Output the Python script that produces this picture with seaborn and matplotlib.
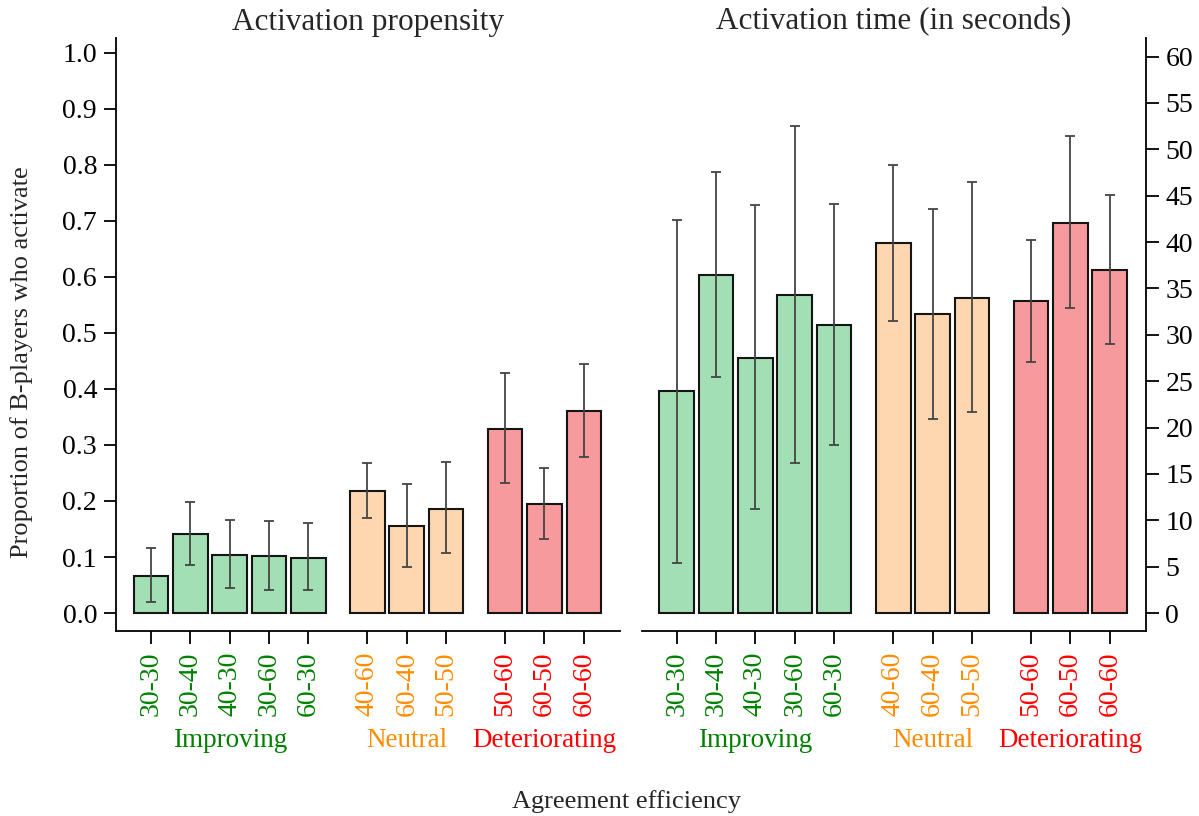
import numpy as np
import pandas as pd
import matplotlib
matplotlib.use("Agg")
import matplotlib.pyplot as plt
import matplotlib.transforms as mtransforms
import seaborn as sns

# ---------------- data ----------------
categories = ["30-30", "30-40", "40-30", "30-60", "60-30",
              "40-60", "60-40", "50-50",
              "50-60", "60-50", "60-60"]
groups = ["Improving"] * 5 + ["Neutral"] * 3 + ["Deteriorating"] * 3
group_names = ["Improving", "Neutral", "Deteriorating"]

prop_mean = [0.066, 0.141, 0.104, 0.102, 0.099, 0.218, 0.156, 0.186, 0.329, 0.194, 0.360]
prop_lo   = [0.020, 0.086, 0.045, 0.041, 0.041, 0.170, 0.083, 0.107, 0.232, 0.132, 0.279]
prop_hi   = [0.116, 0.199, 0.166, 0.165, 0.160, 0.268, 0.230, 0.270, 0.429, 0.258, 0.445]

time_mean = [23.9, 36.4, 27.5, 34.3, 31.1, 39.9, 32.2, 34.0, 33.6, 42.0, 37.0]
time_lo   = [5.4, 25.5, 11.2, 16.2, 18.1, 31.5, 20.9, 21.7, 27.1, 32.9, 29.0]
time_hi   = [42.4, 47.6, 44.0, 52.5, 44.1, 48.3, 43.6, 46.5, 40.2, 51.4, 45.1]

left_ticks = [0.0, 0.1, 0.2, 0.3, 0.4, 0.5, 0.6, 0.7, 0.8, 0.9, 1.0]
right_ticks = [0, 5, 10, 15, 20, 25, 30, 35, 40, 45, 50, 55, 60]

# ---------------- styles ----------------
fill_colors = {"Improving": "#a3dfb4", "Neutral": "#fed7b0", "Deteriorating": "#f79a9e"}
text_colors = {"Improving": "#008000", "Neutral": "#ff8c00", "Deteriorating": "#ff0000"}

sns.set_style("ticks")
plt.rcParams["font.family"] = ["Liberation Serif", "DejaVu Serif"]

# positions: bars 1 unit apart, 0.5 extra gap between groups
positions = []
p = 0.0
prev = None
for g in groups:
    if prev is not None:
        p += 1.0 if g == prev else 1.5
    positions.append(p)
    prev = g
positions = np.array(positions)

fig = plt.figure(figsize=(11.99, 8.16), dpi=100)
W, H = 1199, 816
bottom_px, top_px = 631, 38
ax1 = fig.add_axes([116.5 / W, 1 - bottom_px / H, 503.5 / W, (bottom_px - top_px) / H])
ax2 = fig.add_axes([642 / W, 1 - bottom_px / H, 504 / W, (bottom_px - top_px) / H])


def draw(ax, mean, lo, hi):
    df = pd.DataFrame({"pos": positions, "val": mean, "grp": groups})
    sns.barplot(data=df, x="pos", y="val", hue="grp", palette=fill_colors,
                hue_order=group_names, native_scale=True, dodge=False,
                width=0.88, edgecolor="#151515", linewidth=1.5, errorbar=None,
                legend=False, ax=ax, saturation=1)
    m = np.array(mean)
    ax.errorbar(positions, m, yerr=[m - np.array(lo), np.array(hi) - m],
                fmt="none", ecolor="#444444", elinewidth=1.3, capsize=3.4,
                capthick=1.3, zorder=5)
    ax.set_xlim(positions[0] - 0.88, positions[-1] + 0.92)
    ax.set_xticks(positions)
    ax.set_xticklabels(categories, rotation=90)
    ax.set_xlabel("")
    ax.set_ylabel("")
    ax.tick_params(axis="both", length=9, width=1.3, pad=5, colors="black")
    ax.tick_params(axis="y", labelsize=20)
    ax.tick_params(axis="x", labelsize=20, pad=6)
    for lab, g in zip(ax.get_xticklabels(), groups):
        lab.set_color(text_colors[g])
    for s in ax.spines.values():
        s.set_linewidth(1.3)
        s.set_color("black")
    trans = mtransforms.blended_transform_factory(ax.transData, ax.transAxes)
    for gname in group_names:
        gp = positions[[i for i, g in enumerate(groups) if g == gname]]
        ax.text(gp.mean(), -0.184, gname, transform=trans, ha="center", va="center",
                fontsize=19.5, color=text_colors[gname])


draw(ax1, prop_mean, prop_lo, prop_hi)
ax1.set_ylim(-0.032, 1.026)
ax1.set_yticks(left_ticks)
ax1.set_yticklabels([f"{t:.1f}" for t in left_ticks])
ax1.spines["top"].set_visible(False)
ax1.spines["right"].set_visible(False)
ax1.set_title("Activation propensity", fontsize=22.5, pad=6)

draw(ax2, time_mean, time_lo, time_hi)
ax2.set_ylim(-1.94, 62.0)
ax2.yaxis.tick_right()
ax2.set_yticks(right_ticks)
ax2.set_yticklabels([str(t) for t in right_ticks])
ax2.spines["top"].set_visible(False)
ax2.spines["left"].set_visible(False)
ax2.spines["right"].set_visible(True)
ax2.set_title("Activation time (in seconds)", fontsize=22.5, pad=6)

fig.text(22 / W, 1 - 362 / H, "Proportion of B-players who activate", rotation=90,
         ha="center", va="center", fontsize=19)
fig.text(626.5 / W, 1 - 802 / H, "Agreement efficiency", ha="center", va="center", fontsize=19)

fig.savefig("out.png", dpi=100, facecolor="white")
